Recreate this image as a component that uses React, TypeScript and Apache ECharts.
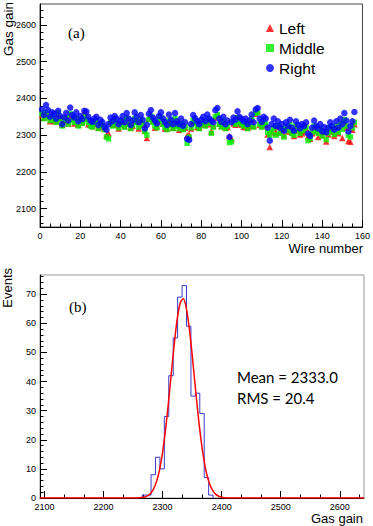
import React, { useEffect, useRef } from 'react';
import * as echarts from 'echarts';

// ---------- Data: panel (a) gas gain per wire (wire number = index + 1) ----------
const GAIN_LEFT: number[] = [
  2355, 2348, 2360, 2352, 2338, 2355, 2340, 2338, 2358, 2345,
  2328, 2338, 2348, 2332, 2355, 2345, 2332, 2350, 2328, 2336,
  2335, 2362, 2345, 2330, 2328, 2325, 2330, 2340, 2320, 2328,
  2322, 2318, 2300, 2305, 2338, 2328, 2345, 2328, 2318, 2330,
  2338, 2325, 2348, 2332, 2320, 2325, 2342, 2338, 2318, 2342,
  2328, 2312, 2292, 2345, 2355, 2338, 2320, 2325, 2338, 2350,
  2332, 2318, 2318, 2338, 2330, 2320, 2342, 2328, 2315, 2332,
  2318, 2320, 2300, 2302, 2318, 2338, 2335, 2322, 2320, 2328,
  2332, 2328, 2338, 2330, 2310, 2325, 2348, 2355, 2332, 2325,
  2336, 2320, 2322, 2298, 2290, 2332, 2328, 2350, 2332, 2328,
  2322, 2330, 2320, 2325, 2342, 2325, 2358, 2365, 2328, 2325,
  2332, 2328, 2302, 2268, 2308, 2318, 2305, 2322, 2308, 2315,
  2300, 2318, 2310, 2325, 2308, 2298, 2322, 2312, 2302, 2305,
  2310, 2318, 2298, 2290, 2305, 2320, 2310, 2295, 2315, 2300,
  2308, 2283, 2302, 2318, 2310, 2298, 2322, 2305, 2325, 2292,
  2338, 2320, 2284, 2282, 2315, 2330,
];

const GAIN_MIDDLE: number[] = [
  2358, 2345, 2362, 2350, 2340, 2352, 2342, 2335, 2360, 2342,
  2325, 2340, 2345, 2330, 2358, 2340, 2335, 2346, 2325, 2338,
  2332, 2350, 2342, 2335, 2325, 2322, 2332, 2338, 2318, 2330,
  2325, 2315, 2295, 2290, 2335, 2325, 2340, 2330, 2320, 2328,
  2340, 2322, 2345, 2330, 2318, 2328, 2345, 2335, 2322, 2340,
  2330, 2310, 2300, 2342, 2352, 2335, 2325, 2320, 2340, 2348,
  2330, 2322, 2315, 2340, 2328, 2318, 2345, 2325, 2318, 2330,
  2315, 2322, 2278, 2295, 2320, 2340, 2332, 2325, 2318, 2330,
  2335, 2325, 2340, 2332, 2305, 2322, 2350, 2356, 2330, 2322,
  2338, 2318, 2325, 2280, 2282, 2335, 2330, 2348, 2335, 2330,
  2325, 2332, 2318, 2328, 2345, 2322, 2360, 2362, 2330, 2322,
  2335, 2330, 2308, 2300, 2310, 2320, 2300, 2325, 2305, 2318,
  2295, 2322, 2312, 2328, 2305, 2300, 2325, 2315, 2305, 2318,
  2312, 2322, 2285, 2292, 2308, 2325, 2312, 2305, 2318, 2298,
  2310, 2288, 2306, 2322, 2312, 2302, 2325, 2308, 2330, 2316,
  2342, 2325, 2300, 2295, 2320, 2335,
];

const GAIN_RIGHT: number[] = [
  2370, 2355, 2382, 2368, 2350, 2362, 2358, 2345, 2366, 2352,
  2330, 2348, 2360, 2340, 2375, 2355, 2348, 2362, 2338, 2352,
  2344, 2366, 2364, 2350, 2340, 2336, 2345, 2350, 2328, 2342,
  2335, 2322, 2315, 2330, 2348, 2338, 2352, 2345, 2330, 2340,
  2352, 2335, 2360, 2345, 2328, 2340, 2362, 2350, 2335, 2355,
  2342, 2318, 2328, 2358, 2368, 2348, 2340, 2332, 2352, 2362,
  2345, 2336, 2328, 2356, 2342, 2330, 2360, 2338, 2330, 2345,
  2325, 2335, 2290, 2287, 2330, 2355, 2346, 2338, 2330, 2342,
  2350, 2338, 2356, 2345, 2340, 2335, 2368, 2374, 2345, 2336,
  2350, 2330, 2340, 2295, 2335, 2348, 2342, 2365, 2350, 2344,
  2338, 2345, 2330, 2340, 2356, 2335, 2370, 2374, 2345, 2336,
  2350, 2345, 2320, 2285, 2330, 2345, 2325, 2338, 2320, 2330,
  2312, 2335, 2325, 2342, 2320, 2312, 2338, 2328, 2318, 2330,
  2325, 2335, 2304, 2298, 2320, 2340, 2325, 2318, 2330, 2310,
  2322, 2308, 2320, 2335, 2325, 2315, 2338, 2320, 2345, 2330,
  2360, 2340, 2310, 2325, 2338, 2363,
];

// ---------- Data: panel (b) histogram of gas gain ----------
const HIST_FIRST_EDGE = 2265.5;
const HIST_BIN_WIDTH = 7.5;
const HIST_COUNTS: number[] = [1, 1, 8, 14, 10, 28, 42, 55, 69, 73, 59, 35, 36, 29, 7, 1];

// Gaussian fit curve
const FIT_X: number[] = [
  2092.5, 2250, 2260, 2270, 2275, 2280, 2285, 2290, 2295, 2300, 2305, 2310, 2315, 2320,
  2325, 2330, 2335, 2340, 2345, 2350, 2355, 2360, 2365, 2370, 2375, 2380, 2385, 2390,
  2395, 2400, 2405, 2410, 2420, 2641,
];
const FIT_Y: number[] = [
  0, 0, 0.06, 0.37, 0.81, 1.66, 3.2, 5.8, 9.8, 15.7, 23.4, 32.9, 43.2, 53.3,
  61.8, 67.1, 68.4, 65.4, 58.7, 49.4, 39.0, 28.9, 20.1, 13.1, 8.0, 4.6, 2.5, 1.25,
  0.6, 0.26, 0.11, 0.04, 0, 0,
];

const STATS_TEXT = ['Mean = 2333.0', 'RMS = 20.4'];

// ---------- Tick values ----------
const range = (a: number, b: number, s: number) => {
  const out: number[] = [];
  for (let v = a; v <= b + 1e-9; v += s) out.push(Math.round(v * 1000) / 1000);
  return out;
};
const TOP_X_MAJOR = range(0, 160, 20);
const TOP_X_MINOR = range(0, 160, 5);
const TOP_Y_MAJOR = range(2100, 2600, 100);
const TOP_Y_MINOR = range(2060, 2640, 20);
const BOT_X_MAJOR = range(2100, 2600, 100);
const BOT_X_MINOR = range(2100, 2633.4, 100 / 3);
const BOT_Y_MAJOR = range(0, 70, 10);
const BOT_Y_MINOR = range(0, 76, 2);

const SANS = 'Liberation Sans, Arial, sans-serif';
const SERIF = 'Liberation Serif, Times New Roman, serif';

function makeAxis(
  dim: 'x' | 'y',
  gridIndex: number,
  min: number,
  max: number,
  major: number[],
  minor: number[],
) {
  const position = dim === 'x' ? 'bottom' : 'left';
  const main = {
    type: 'value',
    gridIndex,
    min,
    max,
    position,
    axisLine: { show: true, onZero: false, lineStyle: { color: '#000', width: 1 } },
    axisTick: {
      show: true,
      inside: true,
      length: 7,
      customValues: major,
      lineStyle: { color: '#000', width: 1 },
    },
    axisLabel: {
      show: true,
      customValues: major,
      formatter: (v: number) => String(v),
      fontSize: 9,
      fontFamily: SANS,
      color: '#000',
      margin: 4,
    },
    splitLine: { show: false },
  };
  const minorAxis = {
    type: 'value',
    gridIndex,
    min,
    max,
    position,
    axisLine: { show: false, onZero: false },
    axisTick: {
      show: true,
      inside: true,
      length: 3.5,
      customValues: minor,
      lineStyle: { color: '#000', width: 1 },
    },
    axisLabel: { show: false },
    splitLine: { show: false },
  };
  return [main, minorAxis];
}

export default function App() {
  const ref = useRef<HTMLDivElement>(null);

  useEffect(() => {
    if (!ref.current) return;
    const chart = echarts.init(ref.current, undefined, { renderer: 'svg' });

    const toPairs = (vals: number[]) => vals.map((v, i) => [i + 1, v]);

    // histogram as a step outline
    const histLine: number[][] = [[HIST_FIRST_EDGE, 0]];
    HIST_COUNTS.forEach((c, i) => {
      const lo = HIST_FIRST_EDGE + i * HIST_BIN_WIDTH;
      histLine.push([lo, c], [lo + HIST_BIN_WIDTH, c]);
    });
    histLine.push([HIST_FIRST_EDGE + HIST_COUNTS.length * HIST_BIN_WIDTH, 0]);

    const fitLine = FIT_X.map((x, i) => [x, FIT_Y[i]]);

    const xAxes = [
      ...makeAxis('x', 0, 0, 160, TOP_X_MAJOR, TOP_X_MINOR),
      ...makeAxis('x', 1, 2092.5, 2641, BOT_X_MAJOR, BOT_X_MINOR),
    ];
    const yAxes = [
      ...makeAxis('y', 0, 2050, 2657, TOP_Y_MAJOR, TOP_Y_MINOR),
      ...makeAxis('y', 1, 0, 76.6, BOT_Y_MAJOR, BOT_Y_MINOR),
    ];

    const option: any = {
      animation: false,
      backgroundColor: '#fff',
      grid: [
        { left: 40, top: 4, width: 324, height: 223, show: true, borderColor: '#444', borderWidth: 1, backgroundColor: 'transparent' },
        { left: 40, top: 275, width: 324, height: 223, show: true, borderColor: '#999', borderWidth: 1, backgroundColor: 'transparent' },
      ],
      xAxis: xAxes,
      yAxis: yAxes,
      legend: {
        orient: 'vertical',
        left: 261,
        top: 15,
        itemWidth: 8,
        itemHeight: 8,
        itemGap: 4,
        textStyle: { fontSize: 15.5, fontFamily: SANS, color: '#000', lineHeight: 15 },
        data: [
          { name: 'Left', icon: 'triangle' },
          { name: 'Middle', icon: 'rect' },
          { name: 'Right', icon: 'circle' },
        ],
      },
      series: [
        {
          name: 'Left',
          type: 'scatter',
          xAxisIndex: 0,
          yAxisIndex: 0,
          symbol: 'triangle',
          symbolSize: 6.5,
          itemStyle: { color: '#ff0000' },
          data: toPairs(GAIN_LEFT),
          z: 2,
        },
        {
          name: 'Middle',
          type: 'scatter',
          xAxisIndex: 0,
          yAxisIndex: 0,
          symbol: 'rect',
          symbolSize: 5.5,
          itemStyle: { color: '#00f000' },
          data: toPairs(GAIN_MIDDLE),
          z: 3,
        },
        {
          name: 'Right',
          type: 'scatter',
          xAxisIndex: 0,
          yAxisIndex: 0,
          symbol: 'circle',
          symbolSize: 6.5,
          itemStyle: { color: '#0000ff' },
          data: toPairs(GAIN_RIGHT),
          z: 4,
        },
        {
          name: 'hist',
          type: 'line',
          xAxisIndex: 2,
          yAxisIndex: 2,
          showSymbol: false,
          symbol: 'none',
          lineStyle: { color: '#3a3acc', width: 1 },
          data: histLine,
          z: 2,
        },
        {
          name: 'fit',
          type: 'line',
          xAxisIndex: 2,
          yAxisIndex: 2,
          showSymbol: false,
          symbol: 'none',
          smooth: 0.3,
          lineStyle: { color: '#ff0000', width: 1.5 },
          data: fitLine,
          z: 3,
        },
      ],
      graphic: [
        {
          type: 'text',
          x: 1,
          y: 2,
          rotation: Math.PI / 2,
          style: { text: 'Gas gain', fontSize: 13.5, fontFamily: SANS, fill: '#000', align: 'right', verticalAlign: 'top' },
        },
        {
          type: 'text',
          x: 363,
          y: 248,
          style: { text: 'Wire number', fontSize: 13, fontFamily: SANS, fill: '#000', align: 'right', verticalAlign: 'middle' },
        },
        {
          type: 'text',
          x: 68,
          y: 33,
          style: { text: '(a)', fontSize: 15, fontFamily: SERIF, fill: '#000', align: 'left', verticalAlign: 'middle' },
        },
        {
          type: 'text',
          x: 1,
          y: 268,
          rotation: Math.PI / 2,
          style: { text: 'Events', fontSize: 13, fontFamily: SANS, fill: '#000', align: 'right', verticalAlign: 'top' },
        },
        {
          type: 'text',
          x: 69,
          y: 307,
          style: { text: '(b)', fontSize: 15, fontFamily: SERIF, fill: '#000', align: 'left', verticalAlign: 'middle' },
        },
        {
          type: 'text',
          x: 237,
          y: 377,
          style: { text: STATS_TEXT[0], fontSize: 15, fontFamily: 'Lato, Open Sans, sans-serif', fill: '#000', align: 'left', verticalAlign: 'middle' },
        },
        {
          type: 'text',
          x: 237,
          y: 398,
          style: { text: STATS_TEXT[1], fontSize: 15, fontFamily: 'Lato, Open Sans, sans-serif', fill: '#000', align: 'left', verticalAlign: 'middle' },
        },
        {
          type: 'text',
          x: 363,
          y: 518,
          style: { text: 'Gas gain', fontSize: 13, fontFamily: SANS, fill: '#000', align: 'right', verticalAlign: 'middle' },
        },
      ],
    };

    chart.setOption(option);
    return () => chart.dispose();
  }, []);

  return (
    <div
      ref={ref}
      style={{ position: 'absolute', left: 0, top: 0, width: 373, height: 526, background: '#fff' }}
    />
  );
}
